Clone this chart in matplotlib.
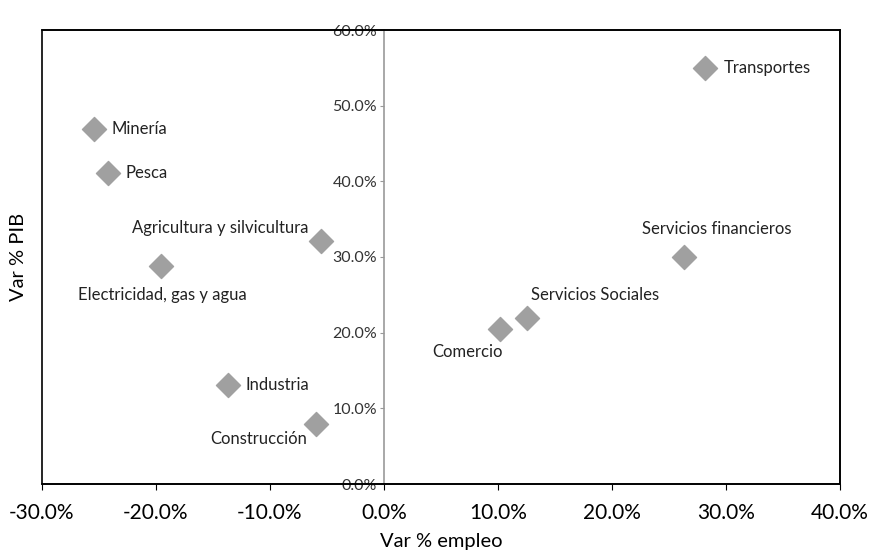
import matplotlib
matplotlib.use('Agg')

import matplotlib.pyplot as plt
from matplotlib.patches import Rectangle
from matplotlib.ticker import FuncFormatter

sectores = ["Transportes", "Minería", "Pesca", "Agricultura y silvicultura",
            "Electricidad, gas y agua", "Industria", "Construcción",
            "Comercio", "Servicios Sociales", "Servicios financieros"]
var_empleo = [28.2, -25.4, -24.2, -5.5, -19.6, -13.7, -6.0, 10.2, 12.5, 26.3]
var_pib = [55.0, 46.9, 41.1, 32.1, 28.8, 13.1, 7.9, 20.5, 21.9, 30.0]

x_ticks = [-30, -20, -10, 0, 10, 20, 30, 40]
y_ticks = [0, 10, 20, 30, 40, 50, 60]

# label placement: offset in pixels (dx, dy) and horizontal alignment
offsets = [(18, 0, 'left'), (17, 0, 'left'), (17, 0, 'left'), (-13, 13, 'right'),
           (2, -29, 'center'), (18, 0, 'left'), (-8, -15, 'right'),
           (2, -23, 'right'), (4, 23, 'left'), (33, 28, 'center')]

plt.rcParams['font.family'] = ['Lato', 'DejaVu Sans']

fig = plt.figure(figsize=(8.72, 5.56), dpi=100)
ax = fig.add_axes([42 / 872, 72 / 556, 798 / 872, 454 / 556])

ax.scatter(var_empleo, var_pib, marker='D', s=150, color='#a0a0a0', zorder=3)

for name, x, y, (dx, dy, ha) in zip(sectores, var_empleo, var_pib, offsets):
    ax.annotate(name, (x, y), xytext=(dx * 0.72, dy * 0.72), textcoords='offset points',
                ha=ha, va='center', fontsize=12, color='#222222')

ax.set_xlim(-30, 40)
ax.set_ylim(0, 60)
ax.set_xticks(x_ticks)
ax.set_yticks(y_ticks)
ax.xaxis.set_major_formatter(FuncFormatter(lambda v, p: f"{v:.1f}%"))
ax.yaxis.set_major_formatter(FuncFormatter(lambda v, p: f"{v:.1f}%"))

for s in ['top', 'right', 'bottom']:
    ax.spines[s].set_color('black')
    ax.spines[s].set_linewidth(1.2)
ax.spines['left'].set_position(('data', 0))
ax.spines['left'].set_color('#999999')
ax.spines['left'].set_linewidth(1.2)
ax.add_patch(Rectangle((0, 0), 1, 1, transform=ax.transAxes, fill=False,
                       edgecolor='black', linewidth=1.2, clip_on=False, zorder=4))

ax.tick_params(axis='x', labelsize=15, length=4, color='black', pad=10)
ax.tick_params(axis='y', labelsize=11.5, length=3, color='#999999', pad=2,
               labelcolor='#333333')

ax.set_xlabel("Var % empleo", fontsize=14.5, labelpad=7)
ax.set_ylabel("Var % PIB", fontsize=14.5)
ax.yaxis.set_label_coords(-0.019, 0.5)

fig.savefig("out.png", dpi=100)
